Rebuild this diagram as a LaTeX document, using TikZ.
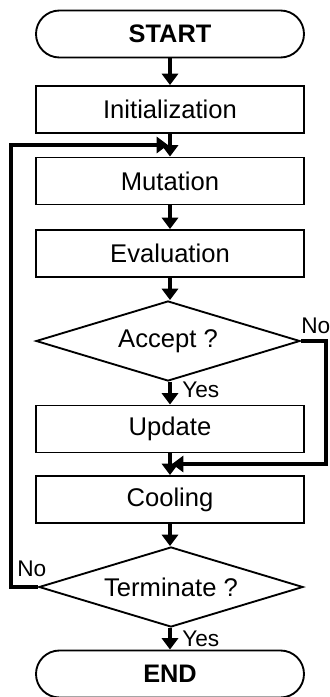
\documentclass[tikz,border=0pt]{standalone}
\usepackage{fontspec}
\setmainfont{Liberation Sans}
\usetikzlibrary{shapes.geometric,arrows.meta}
\begin{document}
\begin{tikzpicture}[x=0.75pt,y=-0.75pt,
  box/.style={draw=black,line width=1.4pt,rectangle,minimum width=201pt,minimum height=35.25pt,inner sep=0pt,font=\fontsize{19.2pt}{22pt}\selectfont},
  term/.style={box,rounded corners=17.6pt,font=\fontsize{19pt}{22pt}\selectfont\bfseries},
  dec/.style={draw=black,line width=1.4pt,diamond,aspect=3.3,minimum width=198pt,minimum height=60pt,inner sep=0pt,font=\fontsize{19.2pt}{22pt}\selectfont},
  conn/.style={line width=3pt,-{Triangle[width=12pt,length=8.5pt]}},
  lbl/.style={anchor=west,inner sep=0pt,font=\fontsize{17pt}{20pt}\selectfont}]
\useasboundingbox (0,0) rectangle (329,697);
\node[term] (S) at (170,34) {START};
\node[box] (I) at (170,109.5) {Initialization};
\node[box] (M) at (170,181) {Mutation};
\node[box] (E) at (170,253.5) {Evaluation};
\node[dec] (A) at (168,341) {Accept ?};
\node[box] (U) at (170,429) {Update};
\node[box] (C) at (170,499.5) {Cooling};
\node[dec] (T) at (171,587) {Terminate ?};
\node[term] (N) at (170,674) {END};
\coordinate (lc) at (11,145);
\coordinate (li) at (168,145);
\coordinate (rc) at (326,464);
\coordinate (ri) at (172,464);
\draw[conn] (S) -- (I);
\draw[conn] (I) -- (M);
\draw[conn] (M) -- (E);
\draw[conn] (E.south) -- (E.south |- A.north);
\draw[conn] (A.south -| U.north) -- (U.north);
\draw[conn] (U) -- (C);
\draw[conn] (C.south) -- (C.south |- T.north);
\draw[conn] (T.south -| N.north) -- (N.north);
\draw[conn] (A.east) -| (rc) -- (ri);
\draw[conn] (T.west) -| (lc) -- (li);
\node[lbl] (y1) at (182,390) {Yes};
\node[lbl] (n1) at (301,326) {No};
\node[lbl] (y2) at (182,639) {Yes};
\node[lbl] (n2) at (17,569) {No};
\end{tikzpicture}
\end{document}
